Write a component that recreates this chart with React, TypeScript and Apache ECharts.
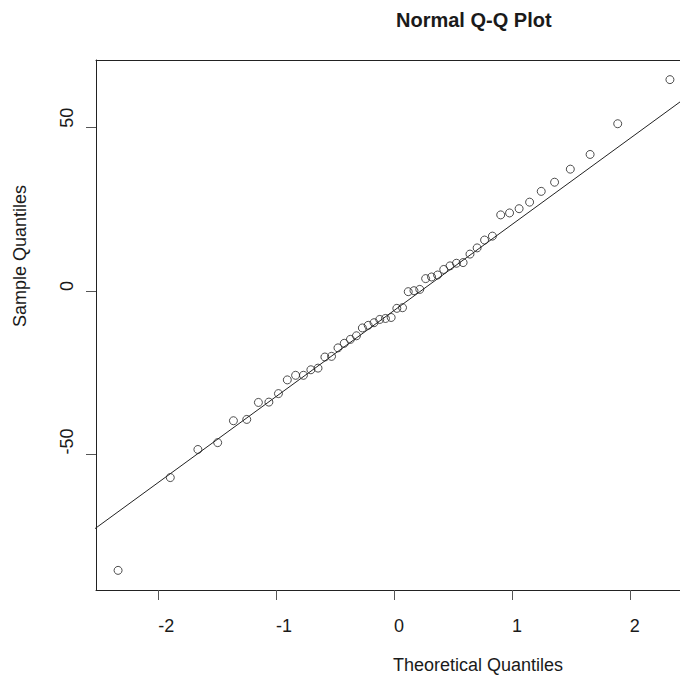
import React, { useEffect, useRef } from "react";
import * as echarts from "echarts";

// Theoretical normal quantiles for n = 52 (lower half; the upper half mirrors it)
const theoreticalLower: number[] = [
  -2.3407, -1.8978, -1.6635, -1.4958, -1.3621, -1.249, -1.1503, -1.0612,
  -0.9803, -0.9051, -0.8347, -0.7683, -0.7051, -0.6445, -0.5862, -0.5299,
  -0.4752, -0.422, -0.3698, -0.3186, -0.2683, -0.2186, -0.1695, -0.1208,
  -0.0724, -0.0241,
];

// Sorted sample values
const sampleValues: number[] = [
  -85.5, -57.1, -48.5, -46.4, -39.7, -39.3, -34.1, -34.0, -31.4, -27.2,
  -25.8, -25.8, -24.1, -23.6, -20.2, -20.0, -17.4, -16.0, -14.8, -13.7,
  -11.3, -10.5, -9.7, -8.7, -8.4, -8.1, -5.3, -5.1, -0.2, 0.1,
  0.5, 3.8, 4.3, 4.9, 6.6, 7.7, 8.5, 8.7, 11.3, 13.2,
  15.6, 16.8, 23.3, 23.9, 25.2, 27.2, 30.5, 33.3, 37.3, 41.8,
  51.2, 64.7,
];

const xTicks: number[] = [-2, -1, 0, 1, 2];
const yTicks: number[] = [-50, 0, 50];

const titleText = "Normal Q-Q Plot";
const xTitle = "Theoretical Quantiles";
const yTitle = "Sample Quantiles";

const theoretical = [
  ...theoreticalLower,
  ...theoreticalLower.slice().reverse().map((v) => -v),
];

// type-7 quantile of a sorted array
function quantile(sorted: number[], p: number): number {
  const h = (sorted.length - 1) * p;
  const lo = Math.floor(h);
  const hi = Math.min(lo + 1, sorted.length - 1);
  return sorted[lo] + (h - lo) * (sorted[hi] - sorted[lo]);
}

// pad a range by 4% on each side
function extend(lo: number, hi: number): [number, number] {
  const d = (hi - lo) * 0.04;
  return [lo - d, hi + d];
}

export default function App() {
  const ref = useRef<HTMLDivElement>(null);

  useEffect(() => {
    if (!ref.current) return;
    const chart = echarts.init(ref.current, undefined, { renderer: "svg" });

    const points = theoretical.map((x, i) => [x, sampleValues[i]]);
    const [xMin, xMax] = extend(theoretical[0], theoretical[theoretical.length - 1]);
    const [yMin, yMax] = extend(sampleValues[0], sampleValues[sampleValues.length - 1]);

    // reference line through the quartiles
    const q1 = quantile(sampleValues, 0.25);
    const q3 = quantile(sampleValues, 0.75);
    const z = 0.6744898;
    const slope = (q3 - q1) / (2 * z);
    const intercept = (q1 + q3) / 2;
    const lineData = [
      [xMin - 1, intercept + slope * (xMin - 1)],
      [xMax + 1, intercept + slope * (xMax + 1)],
    ];

    const font = "Liberation Sans, Arial, sans-serif";
    const textColor = "#1a1a1a";
    const frame = { show: true, onZero: false, lineStyle: { color: "#222", width: 1 } };

    chart.setOption({
      animation: false,
      backgroundColor: "#ffffff",
      grid: {
        left: 96,
        right: 28,
        top: 60,
        bottom: 91,
        show: false,
      },
      xAxis: [
        {
          type: "value",
          position: "bottom",
          min: xMin,
          max: xMax,
          splitLine: { show: false },
          axisLine: frame,
          axisTick: {
            show: true,
            length: 10,
            customValues: xTicks,
            lineStyle: { color: "#555", width: 1 },
          },
          axisLabel: {
            customValues: xTicks,
            align: "left",
            margin: 27,
            fontFamily: font,
            fontSize: 18,
            color: textColor,
          },
        },
        {
          // top edge of the frame
          type: "value",
          position: "top",
          min: xMin,
          max: xMax,
          splitLine: { show: false },
          axisLine: frame,
          axisTick: { show: false },
          axisLabel: { show: false },
        },
      ],
      yAxis: {
        type: "value",
        min: yMin,
        max: yMax,
        splitLine: { show: false },
        axisLine: frame,
        axisTick: {
          show: true,
          length: 10,
          customValues: yTicks,
          lineStyle: { color: "#555", width: 1 },
        },
        axisLabel: {
          customValues: yTicks,
          rotate: 90,
          align: "left",
          margin: 20,
          fontFamily: font,
          fontSize: 18,
          color: textColor,
        },
      },
      series: [
        {
          type: "line",
          data: lineData,
          symbol: "none",
          clip: true,
          silent: true,
          lineStyle: { color: "#222", width: 1 },
        },
        {
          type: "scatter",
          data: points,
          symbol: "circle",
          symbolSize: 8,
          clip: false,
          itemStyle: { color: "transparent", borderColor: "#222", borderWidth: 1 },
        },
      ],
      graphic: [
        {
          type: "text",
          left: 396,
          top: 10,
          style: {
            text: titleText,
            font: `bold 20px ${font}`,
            fill: textColor,
          },
        },
        {
          type: "text",
          left: 393,
          top: 656,
          style: {
            text: xTitle,
            font: `18px ${font}`,
            fill: textColor,
          },
        },
        {
          type: "text",
          x: 20,
          y: 327,
          rotation: Math.PI / 2,
          style: {
            text: yTitle,
            font: `18px ${font}`,
            fill: textColor,
            align: "left",
            verticalAlign: "middle",
          },
        },
      ],
    });

    return () => chart.dispose();
  }, []);

  return (
    <div
      style={{
        position: "fixed",
        left: 0,
        top: 0,
        width: 680,
        height: 681,
        overflow: "hidden",
        background: "#fff",
      }}
    >
      <div ref={ref} style={{ width: 720, height: 681 }} />
    </div>
  );
}
